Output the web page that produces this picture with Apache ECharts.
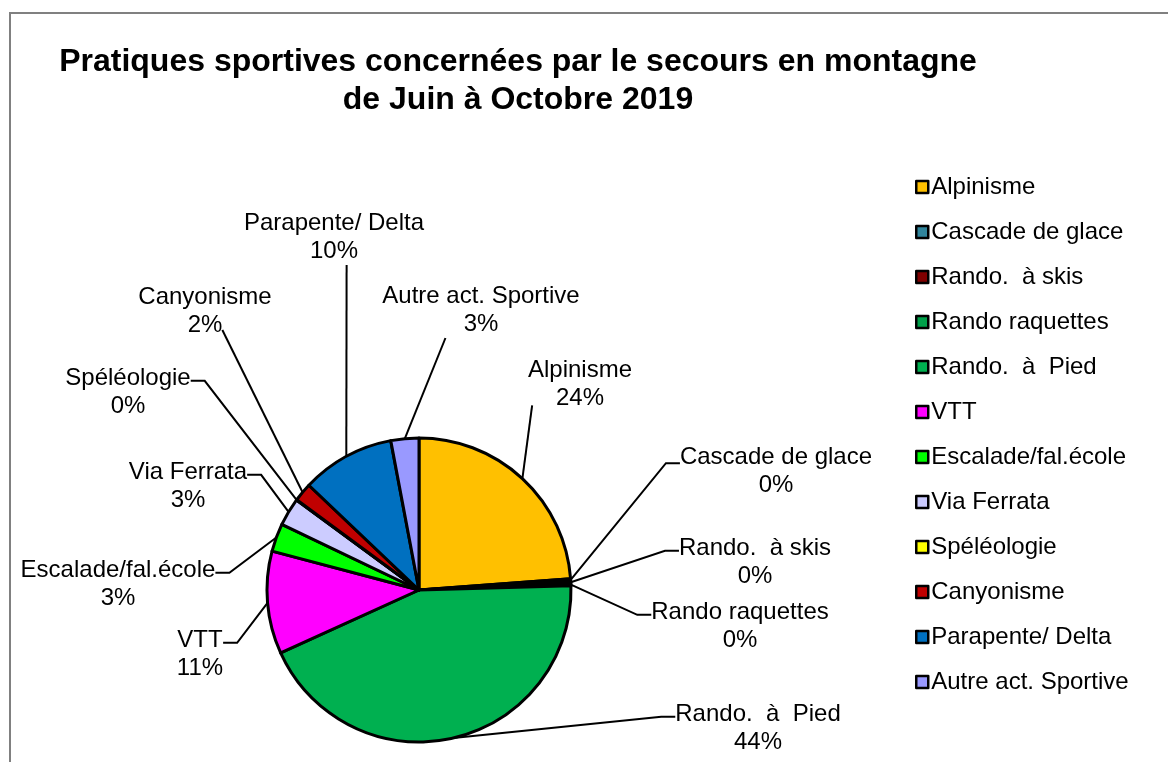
<!DOCTYPE html>
<html>
<head>
<meta charset="utf-8">
<script src="https://cdn.jsdelivr.net/npm/echarts@6/dist/echarts.min.js"></script>
<style>
  html, body { margin: 0; padding: 0; background: #fff; }
  #chart { width: 1168px; height: 762px; }
</style>
</head>
<body>
<div id="chart"></div>
<script>
const categories = ['Alpinisme', 'Cascade de glace', 'Rando.  à skis', 'Rando raquettes', 'Rando.  à  Pied',
  'VTT', 'Escalade/fal.école', 'Via Ferrata', 'Spéléologie', 'Canyonisme', 'Parapente/ Delta', 'Autre act. Sportive']
// parts (percent), zero slices kept as slivers
const values = [24, 0.25, 0.25, 0.25, 44, 11, 3, 3, 0.05, 2, 10, 3]
const colors = ['#ffc000', '#31859c', '#7f0000', '#00a04a', '#00b050', '#ff00ff', '#00ff00', '#ccccff',
  '#ffff00', '#c00000', '#0070c0', '#9999ff']

// label placement (centre of the two-line label) and where the leader line meets it
const labelCx = [580, 776, 755, 740, 758, 200, 118, 188, 128, 205, 334, 481]
const labelCy = [384, 471, 562, 626, 728, 654, 584, 486, 392, 311, 237, 310]
const attachFx = [0.04, 0, 0, 0, 0, 1, 1, 1, 1, 0.63, 0.57, 0.32]
const attachFy = [0.88, 0.36, 0.3, 0.3, 0.3, 0.3, 0.3, 0.3, 0.3, 0.84, 1, 1]

const FONT = 'Arial, "Liberation Sans", sans-serif'
const ctx = document.createElement('canvas').getContext('2d')
ctx.font = '24px ' + FONT

const chart = echarts.init(document.getElementById('chart'))

chart.setOption({
  animation: false,
  backgroundColor: '#fff',
  color: colors,
  title: {
    text: 'Pratiques sportives concernées par le secours en montagne\nde Juin à Octobre 2019',
    left: 513,
    top: 38,
    textAlign: 'center',
    textStyle: {
      fontFamily: FONT,
      fontSize: 32,
      fontWeight: 'bold',
      lineHeight: 38,
      color: '#000'
    }
  },
  graphic: [
    {
      type: 'rect',
      shape: { x: 10, y: 13, width: 1200, height: 800 },
      style: { fill: null, stroke: '#808080', lineWidth: 2 },
      silent: true
    }
  ],
  legend: {
    orient: 'vertical',
    left: 910,
    top: 170,
    itemGap: 21,
    itemWidth: 12,
    itemHeight: 12,
    icon: 'rect',
    itemStyle: { borderColor: '#000', borderWidth: 2.5 },
    textStyle: { fontFamily: FONT, fontSize: 24, lineHeight: 24, color: '#000', padding: [0, 0, 0, -2] },
    data: categories
  },
  series: [
    {
      type: 'pie',
      center: [419, 590],
      radius: 152,
      startAngle: 90,
      percentPrecision: 0,
      avoidLabelOverlap: false,
      itemStyle: { borderColor: '#000', borderWidth: 3 },
      label: {
        formatter: '{b}\n{d}%',
        fontFamily: FONT,
        fontSize: 24,
        lineHeight: 28,
        color: '#000',
        align: 'center'
      },
      labelLine: {
        show: true,
        length: 20,
        length2: 10,
        lineStyle: { color: '#000', width: 2 }
      },
      labelLayout: function(params) {
        const i = params.dataIndex
        const text = categories[i]
        const pct = params.text ? params.text.split('\n')[1] : ''
        const w = Math.max(ctx.measureText(text).width, ctx.measureText(pct || '0%').width)
        const h = 56
        const ax = labelCx[i] + (attachFx[i] - 0.5) * w
        const ay = labelCy[i] + (attachFy[i] - 0.5) * h
        const start = params.labelLinePoints ? params.labelLinePoints[0] : [ax, ay]
        let mid = [ax, ay]
        if (attachFx[i] === 0) mid = [ax - 14, ay]
        if (attachFx[i] === 1) mid = [ax + 14, ay]
        return {
          x: labelCx[i],
          y: labelCy[i],
          align: 'center',
          verticalAlign: 'middle',
          labelLinePoints: [start, mid, [ax, ay]]
        }
      },
      data: categories.map((c, i) => ({ name: c, value: values[i] }))
    }
  ]
})
</script>
</body>
</html>
